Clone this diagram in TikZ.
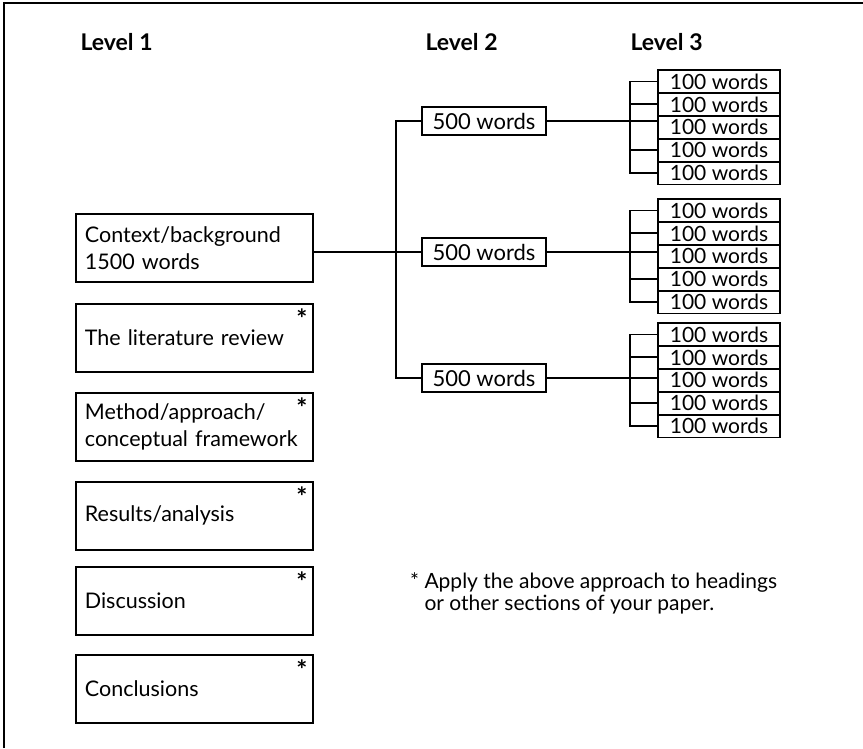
\documentclass[tikz,border=0pt]{standalone}
\usepackage{fontspec}
\setmainfont{Lato}
\begin{document}
\begin{tikzpicture}[x=1pt,y=-1pt,
  conn/.style={line width=1.8pt},
  lbox/.style={draw,line width=1.8pt,minimum width=237pt,minimum height=68pt,anchor=north west,
    inner xsep=9pt,text width=219pt,align=left,font=\fontsize{21.5}{27}\selectfont},
  ltwo/.style={draw,line width=1.8pt,minimum width=124pt,minimum height=28pt,inner sep=0pt,font=\fontsize{22}{24}\selectfont},
  lthree/.style={draw,line width=1.8pt,minimum width=122pt,minimum height=22.8pt,inner sep=0pt,font=\fontsize{21}{22}\selectfont},
  hdr/.style={anchor=west,font=\fontsize{23}{26}\selectfont\bfseries},
  astr/.style={font=\fontsize{26}{26}\selectfont\bfseries,inner sep=0pt}]
\useasboundingbox (0,0) rectangle (863,748);
\draw[line width=2.5pt] (4,748) -- (4,3) -- (863,3);

\node[hdr] (h1) at (77,42) {Level 1};
\node[hdr] (h2) at (422,42) {Level 2};
\node[hdr] (h3) at (627,42) {Level 3};

\node[lbox] (ctx) at (75,213) {Context/background\\1500 words};
\node[lbox] (lit) at (75,303) {The literature review};
\node[lbox] (met) at (75,392) {Method/approach/\\conceptual framework};
\node[lbox] (res) at (75,481) {Results/analysis};
\node[lbox] (dis) at (75,566) {Discussion};
\node[lbox] (con) at (75,654) {Conclusions};

\foreach \n in {lit,met,res,dis,con}
  \node[astr] (a-\n) at ([xshift=-12pt,yshift=-16pt]\n.north east) {*};

\node[ltwo] (b1) at (484,121) {500 words};
\node[ltwo] (b2) at (484,252) {500 words};
\node[ltwo] (b3) at (484,378) {500 words};

\foreach \g/\t in {1/70,2/199,3/323}
  \foreach \i in {1,...,5}
    \node[lthree] (g\g-\i) at (719,{\t+(\i-0.5)*22.9}) {100 words};

\draw[conn] (b2.west) -- (b2.west -| ctx.east);
\draw[conn] (b1.west) -- ++(-25,0) |- (b3.west);
\foreach \g in {1,2,3}{
  \draw[conn] (b\g.east) -- (b\g.east -| g\g-3.west);
  \draw[conn] (g\g-1.west) -- ++(-27,0) |- (g\g-5.west);
  \draw[conn] (g\g-2.west) -- ++(-27,0);
  \draw[conn] (g\g-4.west) -- ++(-27,0);
}

\node[anchor=north west,align=left,font=\fontsize{21}{22}\selectfont,inner sep=0pt] (note) at (410,572)
  {* Apply the above approach to headings\\\hphantom{* }or other sections of your paper.};
\end{tikzpicture}
\end{document}
